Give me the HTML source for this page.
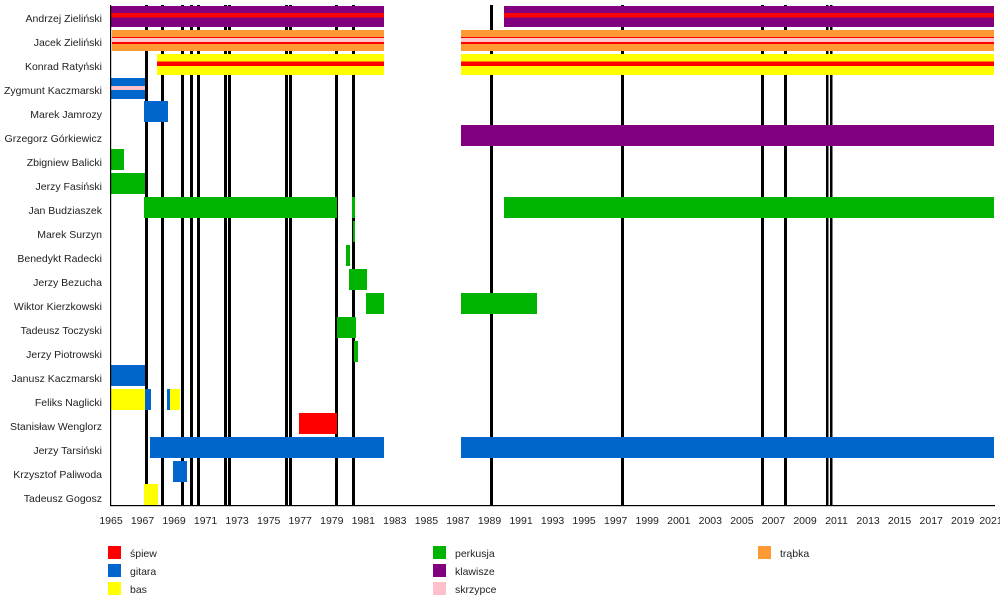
<!DOCTYPE html>
<html><head><meta charset="utf-8"><style>body{margin:0;background:#fff}svg{display:block}text{font-family:"Liberation Sans",sans-serif;font-size:10.5px;fill:#222}</style></head>
<body>
<svg width="1000" height="595" xmlns="http://www.w3.org/2000/svg">
<g fill="#000">
<rect x="145" y="5" width="3" height="500"/><rect x="161" y="5" width="3" height="500"/><rect x="181" y="5" width="3" height="500"/><rect x="190" y="5" width="3" height="500"/><rect x="197" y="5" width="3" height="500"/><rect x="224" y="5" width="3" height="500"/><rect x="228" y="5" width="3" height="500"/><rect x="285" y="5" width="3" height="500"/><rect x="289" y="5" width="3" height="500"/><rect x="335" y="5" width="3" height="500"/><rect x="352" y="5" width="3" height="500"/><rect x="490" y="5" width="3" height="500"/><rect x="621" y="5" width="3" height="500"/><rect x="761" y="5" width="3" height="500"/><rect x="784" y="5" width="3" height="500"/><rect x="826" y="5" width="2.5" height="500"/><rect x="830" y="5" width="2.5" height="500"/>
</g>
<!-- Andrzej -->
<rect x="111" y="6" width="273" height="21" fill="#800080"/><rect x="111" y="13" width="273" height="4.5" fill="#f00"/>
<rect x="504" y="6" width="490" height="21" fill="#800080"/><rect x="504" y="13" width="490" height="4.5" fill="#f00"/>
<!-- Jacek -->
<g><rect x="112" y="30" width="272" height="21" fill="#ff9933"/><rect x="112" y="37" width="272" height="1" fill="#f00"/><rect x="112" y="38" width="272" height="4" fill="#ffc8c8"/><rect x="112" y="42" width="272" height="2" fill="#f00"/>
<rect x="461" y="30" width="533" height="21" fill="#ff9933"/><rect x="461" y="37" width="533" height="1" fill="#f00"/><rect x="461" y="38" width="533" height="4" fill="#ffc8c8"/><rect x="461" y="42" width="533" height="2" fill="#f00"/></g>
<!-- Konrad -->
<rect x="157" y="54" width="227" height="21" fill="#ff0"/><rect x="157" y="61.5" width="227" height="4.5" fill="#f00"/>
<rect x="461" y="54" width="533" height="21" fill="#ff0"/><rect x="461" y="61.5" width="533" height="4.5" fill="#f00"/>
<!-- Zygmunt -->
<rect x="111" y="78" width="34" height="21" fill="#0066cc"/><rect x="111" y="86" width="34" height="4" fill="#ffc0cb"/>
<rect x="144" y="101" width="24" height="21" fill="#0066cc"/>
<rect x="461" y="125" width="533" height="21" fill="#800080"/>
<g fill="#00b300">
<rect x="111" y="149" width="13" height="21"/>
<rect x="111" y="173" width="34" height="21"/>
<rect x="144" y="197" width="193" height="21"/><rect x="352" y="197" width="3" height="21"/><rect x="504" y="197" width="490" height="21"/>
<rect x="353" y="221" width="2" height="21"/>
<rect x="346" y="245" width="4" height="21"/>
<rect x="349" y="269" width="18" height="21"/>
<rect x="366" y="293" width="18" height="21"/><rect x="461" y="293" width="76" height="21"/>
<rect x="337" y="317" width="19" height="21"/>
<rect x="354" y="341" width="4" height="21"/>
</g>
<rect x="111" y="365" width="34" height="21" fill="#0066cc"/>
<rect x="111" y="389" width="34" height="21" fill="#ff0"/><rect x="145" y="389" width="6" height="21" fill="#0066cc"/><rect x="167" y="389" width="3" height="21" fill="#0066cc"/><rect x="170" y="389" width="10" height="21" fill="#ff0"/>
<rect x="299" y="413" width="38" height="21" fill="#f00"/>
<rect x="150" y="437" width="234" height="21" fill="#0066cc"/><rect x="461" y="437" width="533" height="21" fill="#0066cc"/>
<rect x="173" y="461" width="14" height="21" fill="#0066cc"/>
<rect x="144" y="484" width="14" height="21" fill="#ff0"/>
<rect x="110" y="5" width="1.2" height="501" fill="#000"/><rect x="110" y="505" width="885" height="1.2" fill="#000"/>
<g text-anchor="end">
<text x="102" y="22">Andrzej Zieliński</text><text x="102" y="46">Jacek Zieliński</text><text x="102" y="70">Konrad Ratyński</text><text x="102" y="94">Zygmunt Kaczmarski</text><text x="102" y="118">Marek Jamrozy</text><text x="102" y="142">Grzegorz Górkiewicz</text><text x="102" y="166">Zbigniew Balicki</text><text x="102" y="190">Jerzy Fasiński</text><text x="102" y="214">Jan Budziaszek</text><text x="102" y="238">Marek Surzyn</text><text x="102" y="262">Benedykt Radecki</text><text x="102" y="286">Jerzy Bezucha</text><text x="102" y="310">Wiktor Kierzkowski</text><text x="102" y="334">Tadeusz Toczyski</text><text x="102" y="358">Jerzy Piotrowski</text><text x="102" y="382">Janusz Kaczmarski</text><text x="102" y="406">Feliks Naglicki</text><text x="102" y="430">Stanisław Wenglorz</text><text x="102" y="454">Jerzy Tarsiński</text><text x="102" y="478">Krzysztof Paliwoda</text><text x="102" y="502">Tadeusz Gogosz</text>
</g>
<g text-anchor="middle">
<text x="111" y="524">1965</text><text x="142.5" y="524">1967</text><text x="174" y="524">1969</text><text x="205.6" y="524">1971</text><text x="237.1" y="524">1973</text><text x="268.7" y="524">1975</text><text x="300.2" y="524">1977</text><text x="331.8" y="524">1979</text><text x="363.3" y="524">1981</text><text x="394.8" y="524">1983</text><text x="426.4" y="524">1985</text><text x="457.9" y="524">1987</text><text x="489.5" y="524">1989</text><text x="521" y="524">1991</text><text x="552.6" y="524">1993</text><text x="584.1" y="524">1995</text><text x="615.7" y="524">1997</text><text x="647.2" y="524">1999</text><text x="678.8" y="524">2001</text><text x="710.3" y="524">2003</text><text x="741.9" y="524">2005</text><text x="773.4" y="524">2007</text><text x="805" y="524">2009</text><text x="836.5" y="524">2011</text><text x="868.1" y="524">2013</text><text x="899.6" y="524">2015</text><text x="931.2" y="524">2017</text><text x="962.7" y="524">2019</text><text x="991" y="524">2021</text>
</g>
<rect x="108" y="546" width="13" height="13" fill="#f00"/><text x="130" y="557">śpiew</text>
<rect x="108" y="564" width="13" height="13" fill="#0066cc"/><text x="130" y="575">gitara</text>
<rect x="108" y="582" width="13" height="13" fill="#ff0"/><text x="130" y="593">bas</text>
<rect x="433" y="546" width="13" height="13" fill="#00b300"/><text x="455" y="557">perkusja</text>
<rect x="433" y="564" width="13" height="13" fill="#800080"/><text x="455" y="575">klawisze</text>
<rect x="433" y="582" width="13" height="13" fill="#ffc0cb"/><text x="455" y="593">skrzypce</text>
<rect x="758" y="546" width="13" height="13" fill="#ff9933"/><text x="780" y="557">trąbka</text>
</svg>
</body></html>
